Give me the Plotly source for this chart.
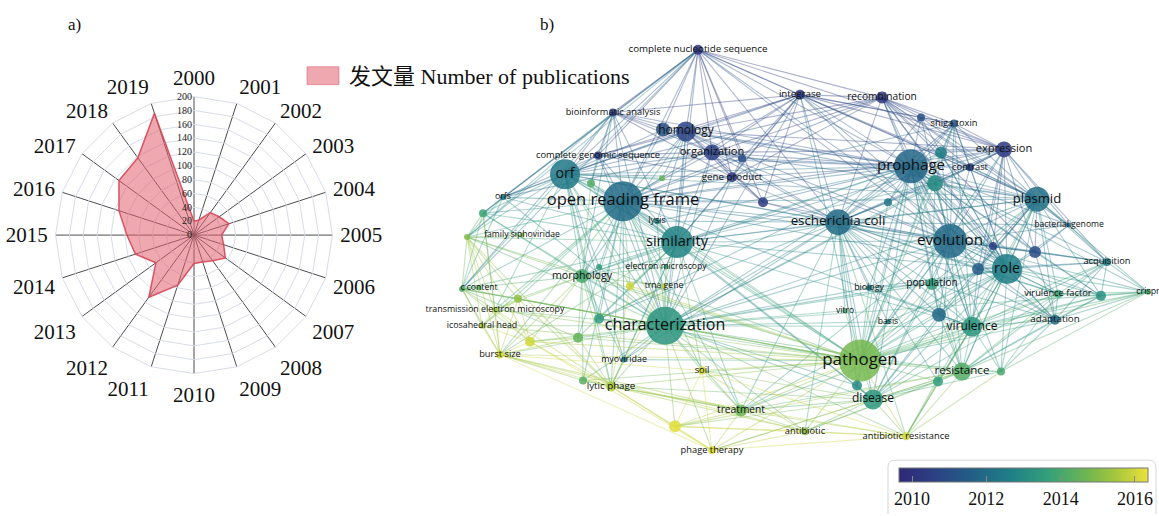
import plotly.graph_objects as go
from plotly.colors import sample_colorscale

# ---------------- panel a: publications per year ----------------
years = [str(y) for y in range(2000, 2020)]
publications = [20, 23, 40, 45, 53, 40, 45, 56, 46, 41,
                41, 76, 111, 68, 89, 97, 114, 134, 138, 185]
radial_ticks = list(range(0, 201, 20))
series_name = "发文量 Number of publications"

# ---------------- panel b: keyword co-occurrence network ----------------
node_keys = [
    "cns", "integrase", "recomb", "n_sa", "shiga", "expression", "contrast", "prophage", "n_a", "n_b",
    "n_c", "plasmid", "bgen", "ecoli", "evolution", "n_d", "n_e", "role", "n_f", "acquisition",
    "crispr", "vf", "n_g", "adaptation", "population", "biology", "vitro", "basis", "n_h", "virulence",
    "pathogen", "resistance", "n_i", "n_j", "n_k", "disease", "antibiotic", "abres", "bioinf", "homology",
    "n_l", "organization", "n_m", "cgs", "geneprod", "orf", "orfs", "orfull", "n_n", "n_o",
    "n_p", "n_q", "lysis", "similarity", "famsipho", "em", "morphology", "trna", "ccontent", "n_r",
    "tem", "icosa", "n_s", "charact", "n_t", "n_u", "burst", "myo", "soil", "lytic",
    "n_v", "treatment", "n_w", "phagether", "n_x", "n_y", "n_z", "n_fs",
]
node_labels = [
    "complete nucleotide sequence", "integrase", "recombination", "", "shiga toxin", "expression", "contrast", "prophage", "", "",
    "", "plasmid", "bacterial genome", "escherichia coli", "evolution", "", "", "role", "", "acquisition",
    "crispr", "virulence factor", "", "adaptation", "population", "biology", "vitro", "basis", "", "virulence",
    "pathogen", "resistance", "", "", "", "disease", "antibiotic", "antibiotic resistance", "bioinformatic analysis", "homology",
    "", "organization", "", "complete genomic sequence", "gene product", "orf", "orfs", "open reading frame", "", "",
    "", "", "lysis", "similarity", "family siphoviridae", "electron microscopy", "morphology", "trna gene", "c content", "",
    "transmission electron microscopy", "icosahedral head", "", "characterization", "", "", "burst size", "myoviridae", "soil", "lytic phage",
    "", "treatment", "", "phage therapy", "", "", "", "",
]
node_x = [
    698, 800, 882, 921, 954, 1004, 970, 911, 941, 935,
    888, 1037, 1069, 838, 950, 993, 1035, 1007, 978, 1107,
    1148, 1058, 1101, 1055, 932, 869, 845, 888, 939, 972,
    860, 962, 1001, 938, 857, 873, 805, 906, 613, 686,
    663, 712, 742, 598, 732, 565, 503, 623, 763, 591,
    662, 483, 657, 677, 522, 666, 582, 664, 479, 518,
    495, 482, 599, 665, 578, 530, 500, 624, 702, 611,
    583, 741, 675, 712, 599, 630, 462, 467,
]
node_y = [
    50, 95, 98, 118, 124, 150, 168, 167, 153, 184,
    203, 200, 226, 223, 242, 247, 253, 270, 270, 263,
    293, 295, 297, 321, 285, 289, 312, 323, 316, 328,
    362, 373, 373, 383, 387, 401, 433, 438, 113, 132,
    130, 153, 159, 156, 178, 175, 198, 202, 203, 184,
    179, 214, 222, 243, 236, 268, 277, 287, 289, 300,
    311, 327, 320, 327, 339, 343, 356, 361, 372, 388,
    382, 412, 428, 452, 268, 287, 290, 238,
]
node_radius = [
    5, 5, 6, 4, 4, 8, 4, 17, 6, 8,
    4, 12.5, 2.5, 13, 17, 4, 6, 15, 6, 4,
    3, 4, 5, 5, 6, 3, 2.5, 2.5, 7, 10,
    21, 9, 4, 5, 5, 10, 4, 4, 4, 10,
    7, 8, 4, 4, 5, 15, 3, 20, 5, 4,
    3, 4, 3, 16, 2.5, 2.5, 7, 2.5, 2.5, 4,
    3, 3, 5, 19, 5, 5, 4, 3, 4, 5,
    4, 6, 6, 4, 3, 4, 3, 3,
]
node_year = [
    2010.1, 2010.3, 2010.1, 2011.0, 2011.3, 2010.4, 2010.6, 2011.8, 2012.6, 2013.0,
    2012.3, 2012.1, 2011.8, 2012.0, 2011.9, 2010.4, 2011.0, 2012.6, 2011.5, 2012.4,
    2014.0, 2013.8, 2013.2, 2012.0, 2013.6, 2012.5, 2014.0, 2013.0, 2011.9, 2013.3,
    2014.8, 2014.2, 2014.0, 2013.6, 2013.0, 2013.4, 2015.2, 2016.0, 2010.3, 2010.7,
    2011.2, 2010.6, 2011.0, 2010.4, 2010.4, 2012.4, 2012.3, 2012.0, 2010.4, 2014.2,
    2014.5, 2013.8, 2012.8, 2012.8, 2015.0, 2013.8, 2014.0, 2015.8, 2014.2, 2015.2,
    2015.5, 2015.5, 2013.5, 2013.3, 2014.5, 2016.0, 2016.0, 2012.5, 2016.0, 2015.5,
    2014.3, 2014.6, 2016.2, 2016.2, 2013.5, 2016.0, 2014.2, 2015.0,
]
links = {
    "cns": ["integrase", "recomb", "prophage", "homology", "n_l", "organization", "orfull", "orf", "bioinf",
            "cgs", "geneprod", "n_m", "ecoli", "evolution", "plasmid", "expression", "similarity", "orfs",
            "n_n", "role", "n_fs", "n_q", "n_z"],
    "integrase": ["recomb", "prophage", "shiga", "n_sa", "expression", "homology", "organization", "orfull", "orf",
                  "ecoli", "evolution", "plasmid", "role", "contrast", "n_m", "geneprod", "n_n", "bioinf", "cgs",
                  "similarity", "charact", "pathogen"],
    "recomb": ["prophage", "shiga", "n_sa", "expression", "contrast", "plasmid", "evolution", "ecoli", "homology",
               "organization", "orfull", "role", "n_a", "n_d", "n_e", "orf", "geneprod", "bgen", "virulence"],
    "n_sa": ["prophage", "shiga", "expression", "plasmid", "evolution", "ecoli", "role"],
    "shiga": ["prophage", "expression", "contrast", "n_a", "n_b", "ecoli", "plasmid", "evolution", "role",
              "pathogen", "virulence", "n_c", "orfull"],
    "expression": ["prophage", "contrast", "plasmid", "evolution", "role", "n_a", "n_b", "n_d", "n_e", "ecoli",
                   "homology", "organization", "orfull", "similarity", "charact", "bgen", "n_f", "acquisition",
                   "virulence", "pathogen"],
    "contrast": ["prophage", "plasmid", "evolution", "n_a", "n_b", "role", "ecoli"],
    "prophage": ["n_a", "n_b", "n_c", "plasmid", "bgen", "ecoli", "evolution", "n_d", "n_e", "role", "n_f",
                 "acquisition", "crispr", "vf", "adaptation", "population", "biology", "n_h", "virulence",
                 "pathogen", "resistance", "disease", "homology", "n_l", "organization", "n_m", "geneprod", "orf",
                 "orfull", "n_n", "similarity", "charact", "lysis", "cgs", "bioinf", "n_s", "morphology", "n_k",
                 "n_g"],
    "n_a": ["plasmid", "evolution", "role", "ecoli", "pathogen"],
    "n_b": ["plasmid", "evolution", "role", "ecoli", "pathogen", "virulence", "population", "charact", "similarity"],
    "n_c": ["ecoli", "evolution", "pathogen"],
    "plasmid": ["bgen", "evolution", "role", "n_d", "n_e", "n_f", "acquisition", "crispr", "vf", "n_g",
                "adaptation", "population", "virulence", "pathogen", "resistance", "ecoli", "orfull", "orf",
                "charact", "similarity", "disease", "n_i", "n_h", "homology", "organization", "abres"],
    "bgen": ["evolution", "role", "acquisition", "ecoli", "n_e"],
    "ecoli": ["evolution", "role", "n_f", "virulence", "pathogen", "resistance", "disease", "orfull", "orf",
              "similarity", "charact", "homology", "organization", "geneprod", "n_n", "population", "biology",
              "vitro", "basis", "n_h", "n_k", "n_j", "treatment", "morphology", "lysis", "myo", "n_s",
              "antibiotic", "abres", "vf", "adaptation", "acquisition"],
    "evolution": ["role", "n_d", "n_e", "n_f", "acquisition", "crispr", "vf", "n_g", "adaptation", "population",
                  "biology", "n_h", "virulence", "pathogen", "resistance", "n_i", "n_j", "disease", "charact",
                  "similarity", "orfull", "orf", "homology", "organization", "n_n", "treatment", "basis"],
    "n_d": ["role", "n_e", "n_f"],
    "n_e": ["role", "acquisition", "adaptation", "n_g"],
    "role": ["n_f", "acquisition", "crispr", "vf", "n_g", "adaptation", "population", "virulence", "pathogen",
             "resistance", "n_i", "n_j", "disease", "n_h", "charact", "similarity", "orfull", "biology",
             "treatment", "abres", "basis"],
    "n_f": ["acquisition", "vf", "adaptation", "virulence", "pathogen"],
    "acquisition": ["crispr", "vf", "n_g", "adaptation", "virulence", "pathogen", "resistance"],
    "crispr": ["vf", "n_g", "adaptation", "pathogen", "resistance", "virulence", "charact", "n_i"],
    "vf": ["n_g", "adaptation", "virulence", "pathogen", "resistance", "n_i", "disease"],
    "n_g": ["adaptation", "virulence", "pathogen", "resistance"],
    "adaptation": ["virulence", "pathogen", "resistance", "n_i", "population"],
    "population": ["virulence", "pathogen", "resistance", "disease", "n_h", "charact", "biology"],
    "biology": ["pathogen", "charact", "virulence"],
    "vitro": ["pathogen", "charact"],
    "basis": ["pathogen", "charact"],
    "n_h": ["virulence", "pathogen", "resistance", "disease"],
    "virulence": ["pathogen", "resistance", "n_i", "n_j", "disease", "charact", "similarity", "orfull",
                  "treatment", "abres"],
    "pathogen": ["resistance", "n_i", "n_j", "n_k", "disease", "antibiotic", "abres", "treatment", "n_w",
                 "phagether", "soil", "charact", "similarity", "orfull", "orf", "morphology", "lytic", "burst",
                 "n_u", "n_r", "tem", "n_z", "n_fs", "n_x", "n_y", "myo", "n_t", "n_s", "n_v", "icosa", "lysis"],
    "resistance": ["n_i", "n_j", "disease", "antibiotic", "abres", "treatment", "charact", "n_w", "phagether"],
    "n_i": ["disease", "abres"],
    "n_j": ["disease", "abres", "antibiotic"],
    "n_k": ["disease", "charact"],
    "disease": ["antibiotic", "abres", "treatment", "phagether", "charact", "n_w", "soil", "similarity",
                "orfull", "lytic"],
    "antibiotic": ["abres", "treatment", "charact", "phagether", "n_w", "burst", "lytic", "soil"],
    "abres": ["treatment", "phagether", "n_w", "charact", "soil", "lytic"],
    "bioinf": ["homology", "n_l", "organization", "cgs", "orf", "orfull", "geneprod", "n_o", "n_fs", "n_q",
               "similarity", "n_z", "morphology", "charact"],
    "homology": ["n_l", "organization", "n_m", "cgs", "geneprod", "orf", "orfull", "n_n", "n_p", "similarity",
                 "charact", "lysis", "orfs", "morphology"],
    "n_l": ["organization", "orf", "orfull"],
    "organization": ["n_m", "geneprod", "orf", "orfull", "n_n", "similarity", "charact", "cgs", "orfs"],
    "n_m": ["orfull", "geneprod"],
    "cgs": ["orf", "orfull", "geneprod", "orfs", "n_o", "similarity", "charact"],
    "geneprod": ["orf", "orfull", "n_n", "similarity", "charact"],
    "orf": ["orfs", "orfull", "n_o", "n_p", "n_q", "lysis", "similarity", "n_fs", "n_x", "morphology", "n_y",
            "n_z", "charact", "n_s", "tem", "myo", "lytic"],
    "orfs": ["orfull", "n_q", "n_fs", "similarity", "charact", "n_z"],
    "orfull": ["n_n", "n_o", "n_p", "n_q", "lysis", "similarity", "n_fs", "em", "morphology", "trna", "n_z",
               "n_r", "tem", "icosa", "n_s", "charact", "n_t", "burst", "myo", "lytic", "n_v", "treatment",
               "soil", "n_x", "n_y"],
    "n_o": ["similarity", "charact", "morphology"],
    "n_q": ["n_fs", "n_z", "charact", "similarity", "morphology", "tem", "burst"],
    "lysis": ["similarity", "charact"],
    "similarity": ["n_fs", "em", "morphology", "trna", "n_z", "n_s", "charact", "n_t", "myo", "lytic",
                   "treatment", "burst", "soil", "n_x", "n_y"],
    "n_fs": ["famsipho", "n_z", "morphology", "n_r", "tem", "icosa", "burst", "charact", "n_u", "lytic"],
    "em": ["morphology", "charact"],
    "morphology": ["trna", "n_z", "n_r", "tem", "n_s", "charact", "n_t", "n_u", "burst", "lytic", "n_v", "myo",
                   "n_x"],
    "trna": ["charact", "n_s", "lytic"],
    "n_z": ["ccontent", "n_r", "tem", "icosa", "burst", "charact", "n_u", "n_t"],
    "n_r": ["tem", "icosa", "burst", "n_u", "charact", "lytic"],
    "tem": ["icosa", "burst", "n_u", "charact", "lytic"],
    "icosa": ["burst", "n_u", "charact"],
    "n_s": ["charact"],
    "charact": ["n_t", "n_u", "burst", "myo", "soil", "lytic", "n_v", "treatment", "n_w", "phagether", "n_x",
                "n_y"],
    "n_t": ["n_u", "lytic", "burst"],
    "n_u": ["burst", "lytic", "phagether"],
    "burst": ["lytic", "phagether", "n_v", "soil", "treatment"],
    "myo": ["lytic"],
    "soil": ["treatment", "phagether", "n_w"],
    "lytic": ["n_v", "treatment", "n_w", "phagether", "n_y"],
    "n_v": ["treatment"],
    "treatment": ["n_w", "phagether"],
    "n_w": ["phagether"],
}
colorbar_years = [2010, 2012, 2014, 2016]
year_min, year_max = 2009.65, 2016.35

# indigo -> blue -> teal -> green -> yellow, for the average publication year
year_scale = [
    [0.00, "rgb(46, 40, 118)"],
    [0.15, "rgb(44, 66, 132)"],
    [0.30, "rgb(34, 96, 134)"],
    [0.45, "rgb(31, 127, 134)"],
    [0.60, "rgb(52, 160, 122)"],
    [0.75, "rgb(109, 181, 82)"],
    [0.88, "rgb(170, 200, 60)"],
    [1.00, "rgb(236, 226, 60)"],
]

SERIF = "Liberation Serif, Times New Roman, Noto Sans CJK SC, serif"
SANS = "Open Sans, Noto Sans, sans-serif"
W, H = 1159, 516

fig = go.Figure()

# ---- radar chart ----
fill_rgba = "rgba(226, 96, 110, 0.55)"
edge_rgba = "rgba(214, 70, 88, 0.9)"
fig.add_trace(go.Scatterpolar(
    r=publications + publications[:1],
    theta=years + years[:1],
    mode="lines",
    fill="toself",
    fillcolor=fill_rgba,
    line=dict(color=edge_rgba, width=1.5),
    name=series_name,
    showlegend=False,
    hoverinfo="skip",
))

# ---- network edges, grouped by colour ----
idx = {k: i for i, k in enumerate(node_keys)}
pairs = set()
for a, nbrs in links.items():
    for b in nbrs:
        i, j = idx[a], idx[b]
        if i != j:
            pairs.add((min(i, j), max(i, j)))

n_bins = 28
groups = {}
for i, j in sorted(pairs):
    mid = (node_year[i] + node_year[j]) / 2
    t = (mid - year_min) / (year_max - year_min)
    b = min(n_bins - 1, max(0, int(t * n_bins)))
    xs, ys = groups.setdefault(b, ([], []))
    xs += [node_x[i], node_x[j], None]
    ys += [node_y[i], node_y[j], None]

for b in sorted(groups):
    xs, ys = groups[b]
    rgb = sample_colorscale(year_scale, [(b + 0.5) / n_bins])[0]
    rgba = rgb.replace("rgb(", "rgba(").replace(")", ", 0.38)")
    fig.add_trace(go.Scatter(
        x=xs, y=ys, mode="lines",
        line=dict(color=rgba, width=1.1),
        hoverinfo="skip", showlegend=False,
    ))

# ---- network nodes ----
fig.add_trace(go.Scatter(
    x=node_x, y=node_y, mode="markers",
    marker=dict(
        size=[2 * r for r in node_radius],
        color=node_year,
        colorscale=year_scale,
        cmin=year_min, cmax=year_max,
        opacity=0.85,
        line=dict(width=0),
        colorbar=dict(
            orientation="h",
            x=1023.5 / W, xanchor="center",
            y=(H - 470) / H, yanchor="top",
            len=249 / W, lenmode="fraction",
            thickness=14, thicknessmode="pixels",
            xpad=0, ypad=0,
            tickvals=colorbar_years,
            ticktext=[str(y) for y in colorbar_years],
            ticks="inside", ticklen=6, tickcolor="#888",
            outlinecolor="#777", outlinewidth=1,
            tickfont=dict(family=SERIF, size=18, color="#111"),
        ),
    ),
    hoverinfo="skip", showlegend=False,
))

# ---- network labels ----
fig.add_trace(go.Scatter(
    x=node_x, y=node_y, mode="text",
    text=node_labels,
    textposition="middle center",
    textfont=dict(family=SANS, size=[7.5 + 0.45 * r for r in node_radius], color="#111"),
    hoverinfo="skip", showlegend=False,
))

# rounded frame around the colour legend
fig.add_shape(
    type="path", xref="x", yref="y",
    path="M 888,522 L 888,469 Q 888,462 895,462 L 1149,462 Q 1156,462 1156,469 L 1156,522",
    line=dict(color="#d6d6d6", width=1),
)

# legend key for the radar series
fig.add_shape(
    type="rect", xref="paper", yref="paper",
    x0=307 / W, x1=339 / W, y0=1 - 85 / H, y1=1 - 67 / H,
    fillcolor=fill_rgba, line=dict(color="rgba(214, 70, 88, 0.45)", width=1),
)

cx, cy, rad = 194, 236, 139
fig.update_layout(
    width=W, height=H,
    margin=dict(l=0, r=0, t=0, b=0),
    paper_bgcolor="white", plot_bgcolor="white",
    showlegend=False,
    polar=dict(
        domain=dict(x=[(cx - rad) / W, (cx + rad) / W], y=[(H - cy - rad) / H, (H - cy + rad) / H]),
        bgcolor="rgba(0,0,0,0)",
        gridshape="linear",
        radialaxis=dict(
            range=[0, 200], tickvals=radial_ticks, angle=90, tickangle=90,
            side="counterclockwise", showline=False, ticks="",
            gridcolor="#d8dce8", gridwidth=1,
            tickfont=dict(family=SERIF, size=10, color="#222"),
        ),
        angularaxis=dict(
            direction="clockwise", rotation=90,
            categoryorder="array", categoryarray=years,
            gridcolor="#4d4d4d", gridwidth=1.4,
            linecolor="#d8dce8", linewidth=1,
            ticks="outside", ticklen=3, tickcolor="rgba(0,0,0,0)",
            tickfont=dict(family=SERIF, size=21, color="#111"),
        ),
    ),
    xaxis=dict(domain=[400 / W, 1], range=[400, W], visible=False, fixedrange=True),
    yaxis=dict(domain=[0, 1], range=[H, 0], visible=False, fixedrange=True),
    annotations=[
        dict(text="a)", x=74 / W, y=1 - 25 / H, xref="paper", yref="paper",
             xanchor="center", yanchor="middle",
             showarrow=False, font=dict(family=SERIF, size=17, color="#111")),
        dict(text="b)", x=547 / W, y=1 - 25 / H, xref="paper", yref="paper",
             xanchor="center", yanchor="middle",
             showarrow=False, font=dict(family=SERIF, size=17, color="#111")),
        dict(text=series_name, x=347 / W, y=1 - 77 / H, xref="paper", yref="paper",
             xanchor="left", yanchor="middle",
             showarrow=False, font=dict(family=SERIF, size=22, color="#111")),
    ],
)

fig.write_html("out.html")
